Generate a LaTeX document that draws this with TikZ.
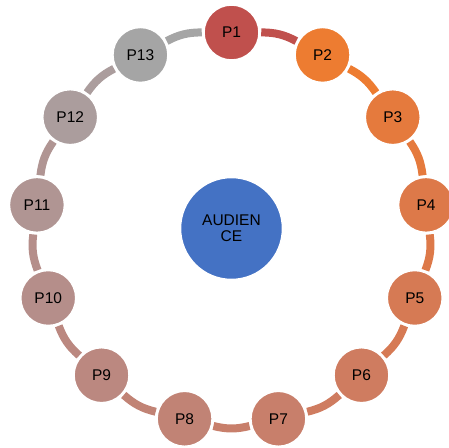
\documentclass[tikz,border=0pt]{standalone}
\usepackage{fontspec}
\setmainfont{Liberation Sans}
\usepackage{tikz}
\usetikzlibrary{positioning}
\definecolor{audblue}{RGB}{68, 114, 196}
\definecolor{pcol1}{RGB}{192, 80, 77}
\definecolor{pcol2}{RGB}{237, 124, 49}
\definecolor{pcol3}{RGB}{229, 122, 61}
\definecolor{pcol4}{RGB}{221, 121, 73}
\definecolor{pcol5}{RGB}{214, 122, 84}
\definecolor{pcol6}{RGB}{207, 124, 96}
\definecolor{pcol7}{RGB}{200, 127, 107}
\definecolor{pcol8}{RGB}{193, 131, 117}
\definecolor{pcol9}{RGB}{187, 136, 128}
\definecolor{pcol10}{RGB}{181, 142, 138}
\definecolor{pcol11}{RGB}{176, 149, 147}
\definecolor{pcol12}{RGB}{171, 157, 157}
\definecolor{pcol13}{RGB}{165, 165, 165}

\begin{document}
\begin{tikzpicture}[
    x=1pt, y=1pt,
    pnode/.style={circle, draw=white, line width=1.5pt, minimum size=55pt, inner sep=0pt, font=\fontsize{15.5}{16}\selectfont},
    hub/.style={circle, draw=white, line width=1.5pt, fill=audblue, minimum size=102pt, inner sep=0pt, align=center, font=\fontsize{15.5}{16}\selectfont},
    link/.style={line width=8pt, shorten <=1.5pt, shorten >=1.5pt}
]
\useasboundingbox (-231.5,-218.5) rectangle (217.5,228.5);

\node[hub] (aud) at (0,0) {AUDIEN\\CE};

\node[pnode, fill=pcol1] (p1) at (90:196) {P1};
\node[pnode, fill=pcol2] (p2) at (62.31:196) {P2};
\node[pnode, fill=pcol3] (p3) at (34.62:196) {P3};
\node[pnode, fill=pcol4] (p4) at (6.92:196) {P4};
\node[pnode, fill=pcol5] (p5) at (-20.77:196) {P5};
\node[pnode, fill=pcol6] (p6) at (-48.46:196) {P6};
\node[pnode, fill=pcol7] (p7) at (-76.15:196) {P7};
\node[pnode, fill=pcol8] (p8) at (-103.85:196) {P8};
\node[pnode, fill=pcol9] (p9) at (-131.54:196) {P9};
\node[pnode, fill=pcol10] (p10) at (-159.23:196) {P10};
\node[pnode, fill=pcol11] (p11) at (173.08:196) {P11};
\node[pnode, fill=pcol12] (p12) at (145.38:196) {P12};
\node[pnode, fill=pcol13] (p13) at (117.69:196) {P13};

\draw[link, pcol1] (p1) to[bend left=14] (p2);
\draw[link, pcol2] (p2) to[bend left=14] (p3);
\draw[link, pcol3] (p3) to[bend left=14] (p4);
\draw[link, pcol4] (p4) to[bend left=14] (p5);
\draw[link, pcol5] (p5) to[bend left=14] (p6);
\draw[link, pcol6] (p6) to[bend left=14] (p7);
\draw[link, pcol7] (p7) to[bend left=14] (p8);
\draw[link, pcol8] (p8) to[bend left=14] (p9);
\draw[link, pcol9] (p9) to[bend left=14] (p10);
\draw[link, pcol10] (p10) to[bend left=14] (p11);
\draw[link, pcol11] (p11) to[bend left=14] (p12);
\draw[link, pcol12] (p12) to[bend left=14] (p13);
\draw[link, pcol13] (p13) to[bend left=14] (p1);
\end{tikzpicture}
\end{document}
